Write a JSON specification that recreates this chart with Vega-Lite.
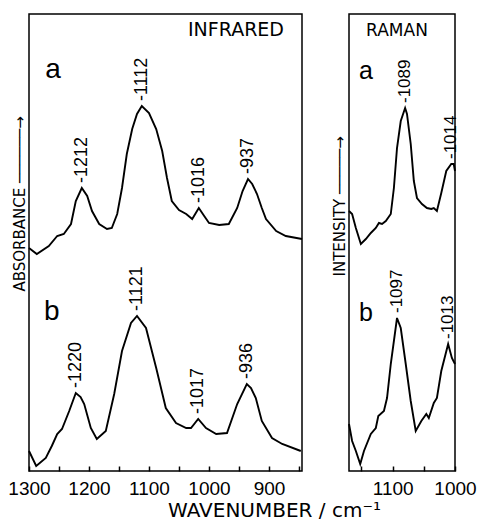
{
  "$schema": "https://vega.github.io/schema/vega-lite/v6.json",
  "background": "white",
  "padding": {"left": 7, "top": 13, "right": 0, "bottom": 0},
  "spacing": 47,
  "bounds": "flush",
  "datasets": {
    "ir": [
      {"s":"a","wn":1300,"h":223},{"s":"a","wn":1287,"h":217},{"s":"a","wn":1267,"h":225},{"s":"a","wn":1253,"h":235},{"s":"a","wn":1242,"h":237},{"s":"a","wn":1230,"h":247},{"s":"a","wn":1222,"h":270},{"s":"a","wn":1212,"h":283},{"s":"a","wn":1203,"h":275},{"s":"a","wn":1195,"h":260},{"s":"a","wn":1183,"h":247},{"s":"a","wn":1170,"h":242},{"s":"a","wn":1162,"h":243},{"s":"a","wn":1153,"h":257},{"s":"a","wn":1145,"h":283},{"s":"a","wn":1137,"h":317},{"s":"a","wn":1128,"h":342},{"s":"a","wn":1120,"h":357},{"s":"a","wn":1112,"h":365},{"s":"a","wn":1100,"h":358},{"s":"a","wn":1088,"h":342},{"s":"a","wn":1078,"h":320},{"s":"a","wn":1070,"h":293},{"s":"a","wn":1062,"h":270},{"s":"a","wn":1050,"h":261},{"s":"a","wn":1038,"h":257},{"s":"a","wn":1028,"h":252},{"s":"a","wn":1017,"h":263},{"s":"a","wn":1008,"h":255},{"s":"a","wn":1000,"h":248},{"s":"a","wn":983,"h":246},{"s":"a","wn":967,"h":247},{"s":"a","wn":953,"h":263},{"s":"a","wn":944,"h":280},{"s":"a","wn":935,"h":292},{"s":"a","wn":928,"h":287},{"s":"a","wn":920,"h":277},{"s":"a","wn":912,"h":263},{"s":"a","wn":905,"h":252},{"s":"a","wn":888,"h":240},{"s":"a","wn":872,"h":235},{"s":"a","wn":845,"h":232},
      {"s":"b","wn":1300,"h":20},{"s":"b","wn":1288,"h":5},{"s":"b","wn":1272,"h":13},{"s":"b","wn":1262,"h":25},{"s":"b","wn":1253,"h":37},{"s":"b","wn":1245,"h":42},{"s":"b","wn":1233,"h":60},{"s":"b","wn":1222,"h":78},{"s":"b","wn":1214,"h":74},{"s":"b","wn":1208,"h":67},{"s":"b","wn":1197,"h":43},{"s":"b","wn":1187,"h":32},{"s":"b","wn":1172,"h":40},{"s":"b","wn":1158,"h":77},{"s":"b","wn":1145,"h":120},{"s":"b","wn":1130,"h":148},{"s":"b","wn":1120,"h":155},{"s":"b","wn":1105,"h":143},{"s":"b","wn":1088,"h":103},{"s":"b","wn":1072,"h":63},{"s":"b","wn":1055,"h":48},{"s":"b","wn":1038,"h":43},{"s":"b","wn":1030,"h":43},{"s":"b","wn":1018,"h":52},{"s":"b","wn":1005,"h":43},{"s":"b","wn":988,"h":37},{"s":"b","wn":970,"h":38},{"s":"b","wn":953,"h":67},{"s":"b","wn":937,"h":87},{"s":"b","wn":930,"h":83},{"s":"b","wn":922,"h":73},{"s":"b","wn":912,"h":50},{"s":"b","wn":895,"h":33},{"s":"b","wn":878,"h":27},{"s":"b","wn":847,"h":20}
    ],
    "raman": [
      {"s":"a","wn":1170,"h":260},{"s":"a","wn":1165,"h":257},{"s":"a","wn":1159,"h":243},{"s":"a","wn":1151,"h":227},{"s":"a","wn":1143,"h":232},{"s":"a","wn":1135,"h":238},{"s":"a","wn":1127,"h":243},{"s":"a","wn":1122,"h":248},{"s":"a","wn":1117,"h":247},{"s":"a","wn":1111,"h":250},{"s":"a","wn":1103,"h":257},{"s":"a","wn":1098,"h":283},{"s":"a","wn":1093,"h":323},{"s":"a","wn":1087,"h":350},{"s":"a","wn":1080,"h":363},{"s":"a","wn":1077,"h":357},{"s":"a","wn":1071,"h":327},{"s":"a","wn":1066,"h":290},{"s":"a","wn":1061,"h":273},{"s":"a","wn":1053,"h":267},{"s":"a","wn":1045,"h":263},{"s":"a","wn":1038,"h":262},{"s":"a","wn":1034,"h":263},{"s":"a","wn":1029,"h":260},{"s":"a","wn":1022,"h":278},{"s":"a","wn":1014,"h":300},{"s":"a","wn":1006,"h":307},{"s":"a","wn":1002,"h":307},{"s":"a","wn":1000,"h":300},
      {"s":"b","wn":1170,"h":47},{"s":"b","wn":1165,"h":30},{"s":"b","wn":1159,"h":20},{"s":"b","wn":1152,"h":7},{"s":"b","wn":1146,"h":20},{"s":"b","wn":1135,"h":37},{"s":"b","wn":1127,"h":43},{"s":"b","wn":1123,"h":55},{"s":"b","wn":1114,"h":60},{"s":"b","wn":1109,"h":73},{"s":"b","wn":1103,"h":107},{"s":"b","wn":1093,"h":153},{"s":"b","wn":1087,"h":143},{"s":"b","wn":1079,"h":107},{"s":"b","wn":1071,"h":70},{"s":"b","wn":1063,"h":40},{"s":"b","wn":1054,"h":50},{"s":"b","wn":1046,"h":57},{"s":"b","wn":1042,"h":53},{"s":"b","wn":1034,"h":68},{"s":"b","wn":1029,"h":73},{"s":"b","wn":1022,"h":100},{"s":"b","wn":1011,"h":127},{"s":"b","wn":1005,"h":113},{"s":"b","wn":1000,"h":107}
    ],
    "irpk": [
      {"wn":1212,"h":283,"label":"-1212"},{"wn":1112,"h":365,"label":"-1112"},{"wn":1017,"h":263,"label":"-1016"},{"wn":935,"h":292,"label":"-937"},
      {"wn":1222,"h":78,"label":"-1220"},{"wn":1120,"h":155,"label":"-1121"},{"wn":1018,"h":52,"label":"-1017"},{"wn":937,"h":87,"label":"-936"}
    ],
    "ramanpk": [
      {"wn":1080,"h":363,"label":"-1089"},{"wn":1006,"h":307,"label":"-1014"},
      {"wn":1093,"h":153,"label":"-1097"},{"wn":1011,"h":127,"label":"-1013"}
    ],
    "irlet": [{"wn":1273,"h":393,"t":"a"},{"wn":1275,"h":151,"t":"b"}],
    "ramanlet": [{"wn":1154,"h":392,"t":"a"},{"wn":1154,"h":150,"t":"b"}]
  },
  "hconcat": [
    {
      "width": 273,
      "height": 457,
      "title": {"text": "INFRARED", "anchor": "end", "frame": "group", "offset": -26, "dx": -18, "fontSize": 19, "font": "DejaVu Sans", "fontWeight": "normal", "color": "black"},
      "encoding": {
        "x": {"field": "wn", "type": "quantitative",
          "scale": {"domain": [1300, 845], "nice": false, "zero": false},
          "axis": {"title": "WAVENUMBER / cm⁻¹", "values": [1300,1250,1200,1150,1100,1050,1000,950,900,850],
            "format": "d", "labelExpr": "datum.value % 100 === 0 ? datum.label : ''",
            "labelFlush": false, "labelOverlap": false, "tickSize": -5, "tickWidth": 1.5,
            "labelPadding": 13, "labelFontSize": 19, "domain": false, "grid": false,
            "titleFont": "DejaVu Sans", "titleFontSize": 20, "titleX": 245, "titleAlign": "center", "titlePadding": 2}},
        "y": {"field": "h", "type": "quantitative",
          "scale": {"domain": [0, 457], "nice": false, "zero": false},
          "axis": {"title": "ABSORBANCE ──────→", "labels": false, "ticks": false, "domain": false, "grid": false,
            "titleFont": "DejaVu Sans", "titleFontSize": 15, "titlePadding": 2, "titleAlign": "left", "titleY": 277}}
      },
      "layer": [
        {"data": {"name": "ir"}, "mark": {"type": "line", "color": "black", "strokeWidth": 1.9},
         "encoding": {"detail": {"field": "s"}}},
        {"data": {"name": "irpk"}, "mark": {"type": "text", "angle": 270, "align": "left", "baseline": "middle", "dx": 5, "fontSize": 18},
         "encoding": {"text": {"field": "label"}}},
        {"data": {"name": "irlet"}, "mark": {"type": "text", "align": "left", "baseline": "alphabetic", "fontSize": 28},
         "encoding": {"text": {"field": "t"}}}
      ]
    },
    {
      "width": 106,
      "height": 457,
      "title": {"text": "RAMAN", "anchor": "middle", "frame": "group", "offset": -26, "dx": -5, "fontSize": 17, "font": "DejaVu Sans", "fontWeight": "normal", "color": "black"},
      "encoding": {
        "x": {"field": "wn", "type": "quantitative",
          "scale": {"domain": [1170, 1000], "nice": false, "zero": false},
          "axis": {"title": null, "values": [1150,1100,1050,1000],
            "format": "d", "labelExpr": "datum.value % 100 === 0 ? datum.label : ''",
            "labelFlush": false, "labelOverlap": false, "tickSize": -5, "tickWidth": 1.5,
            "labelPadding": 13, "labelFontSize": 19, "domain": false, "grid": false}},
        "y": {"field": "h", "type": "quantitative",
          "scale": {"domain": [0, 457], "nice": false, "zero": false},
          "axis": {"title": "INTENSITY ─────→", "labels": false, "ticks": false, "domain": false, "grid": false,
            "titleFont": "DejaVu Sans", "titleFontSize": 15, "titlePadding": 2, "titleAlign": "left", "titleY": 262}}
      },
      "layer": [
        {"data": {"name": "raman"}, "mark": {"type": "line", "color": "black", "strokeWidth": 1.9},
         "encoding": {"detail": {"field": "s"}}},
        {"data": {"name": "ramanpk"}, "mark": {"type": "text", "angle": 270, "align": "left", "baseline": "middle", "dx": 5, "fontSize": 17},
         "encoding": {"text": {"field": "label"}}},
        {"data": {"name": "ramanlet"}, "mark": {"type": "text", "align": "left", "baseline": "alphabetic", "fontSize": 25},
         "encoding": {"text": {"field": "t"}}}
      ]
    }
  ],
  "config": {
    "view": {"stroke": "black", "strokeWidth": 1.5},
    "axis": {"labelColor": "black", "titleColor": "black", "tickColor": "black", "titleFontWeight": "normal", "labelFont": "Liberation Sans", "titleFont": "Liberation Sans"},
    "text": {"font": "Liberation Sans", "color": "black"},
    "title": {"color": "black", "font": "DejaVu Sans", "fontWeight": "normal"}
  }
}
